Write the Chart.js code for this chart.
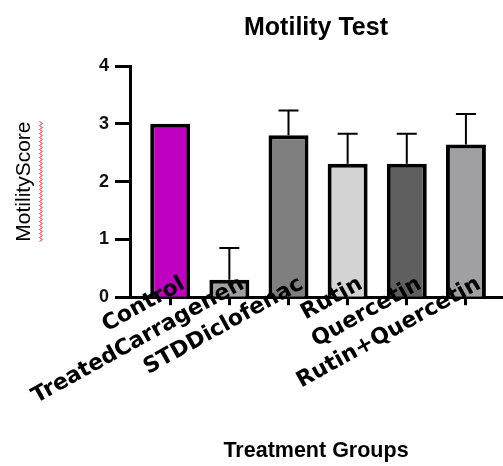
<!DOCTYPE html>
<html><head><meta charset="utf-8">
<script src="https://cdn.jsdelivr.net/npm/chart.js@4.4.1/dist/chart.umd.min.js"></script>
<style>html,body{margin:0;padding:0;background:#fff;overflow:hidden}#wrap{width:503px;height:466px;position:relative}</style>
</head><body><div id="wrap"><canvas id="c" width="503" height="466"></canvas></div>
<script>
const categories = ["Control", "TreatedCarragenen", "STDDiclofenac", "Rutin", "Quercetin", "Rutin+Quercetin"];
const meanScores = [3.0, 0.3, 2.8, 2.31, 2.31, 2.64];
const errorUpper = [0, 0.55, 0.43, 0.52, 0.52, 0.53];
const yTickValues = [0, 1, 2, 3, 4];
const barColors = ["#C000C0", "#9F9FA4", "#7F7F7F", "#D3D3D3", "#5F5F5F", "#A0A0A4"];

Chart.defaults.font.family = "'Liberation Sans', Arial, sans-serif";
Chart.defaults.color = "#000";

const errorBars = {
  id: 'errorBars',
  afterDatasetsDraw(chart) {
    const ctx = chart.ctx, y = chart.scales.y;
    const meta = chart.getDatasetMeta(0);
    ctx.save();
    ctx.strokeStyle = '#000';
    ctx.lineWidth = 2;
    meta.data.forEach((bar, i) => {
      const e = errorUpper[i];
      if (!e) return;
      const top = y.getPixelForValue(meanScores[i]);
      const end = y.getPixelForValue(meanScores[i] + e);
      ctx.beginPath();
      ctx.moveTo(bar.x, top); ctx.lineTo(bar.x, end);
      ctx.moveTo(bar.x - 10, end); ctx.lineTo(bar.x + 10, end);
      ctx.stroke();
    });
    ctx.restore();
  }
};

const squiggle = {
  id: 'squiggle',
  afterDraw(chart) {
    const ctx = chart.ctx, y = chart.scales.y;
    const t = y.options.title;
    const fs = t.font.size;
    ctx.save();
    ctx.font = fs + "px 'Liberation Sans', sans-serif";
    const w = ctx.measureText(t.text).width;
    const cy = (chart.chartArea.top + chart.chartArea.bottom) / 2;
    const cx = y.left + t.padding.top + fs * 0.6 + 17;
    ctx.strokeStyle = '#e33';
    ctx.lineWidth = 1;
    ctx.beginPath();
    let k = 0;
    for (let p = cy - w / 2; p <= cy + w / 2; p += 2, k++) {
      const xx = cx + (k % 2 ? 1.5 : -1.5);
      if (k === 0) ctx.moveTo(xx, p); else ctx.lineTo(xx, p);
    }
    ctx.stroke();
    ctx.restore();
  }
};

new Chart(document.getElementById('c'), {
  type: 'bar',
  data: {
    datasets: [{
      data: categories.map((c, i) => ({ x: i, y: meanScores[i] })),
      backgroundColor: barColors,
      borderColor: '#000',
      borderWidth: 4,
      borderSkipped: 'bottom',
      barPercentage: 0.676,
      categoryPercentage: 1.0,
      xAxisID: 'x',
      yAxisID: 'y'
    }]
  },
  options: {
    responsive: false,
    animation: false,
    devicePixelRatio: 1,
    layout: { padding: { left: 0, right: 1, top: 0, bottom: 0 } },
    plugins: { legend: { display: false }, tooltip: { enabled: false } },
    scales: {
      x: {
        type: 'linear',
        position: 'bottom',
        offset: false,
        min: -0.68,
        max: 5.61,
        afterBuildTicks(scale) { scale.ticks = categories.map((c, i) => ({ value: i })); },
        ticks: {
          z: 1,
          autoSkip: false,
          mirror: true,
          minRotation: 29,
          maxRotation: 29,
          padding: 3,
          labelOffset: 26,
          font: { family: "'DejaVu Sans', sans-serif", size: 22, weight: 'bold' },
          color: '#000',
          callback: (v) => categories[v]
        },
        grid: { display: true, offset: false, drawOnChartArea: false, drawTicks: true, tickLength: 8, tickWidth: 3, tickColor: '#000' },
        border: { display: true, color: '#000', width: 3 },
        title: {
          display: true,
          text: 'Treatment Groups',
          font: { size: 21.5, weight: 'bold' },
          color: '#000',
          padding: { top: 127, bottom: 2 }
        }
      },
      x2: {
        type: 'linear',
        position: 'top',
        display: true,
        ticks: { display: false },
        grid: { display: false, drawTicks: false },
        border: { display: false },
        title: {
          display: true,
          text: 'Motility Test',
          font: { size: 25, weight: 'bold' },
          color: '#000',
          padding: { top: 13, bottom: 23 }
        }
      },
      y: {
        min: 0,
        max: 4,
        afterFit(scale) { scale.width = 130; },
        afterBuildTicks(scale) { scale.ticks = yTickValues.map(v => ({ value: v })); },
        ticks: {
          padding: 6,
          font: { size: 18, weight: 'bold' },
          color: '#111'
        },
        grid: { display: true, drawOnChartArea: false, drawTicks: true, tickLength: 15, tickWidth: 3, tickColor: '#000' },
        border: { display: true, color: '#000', width: 3 },
        title: {
          display: true,
          text: 'MotilityScore',
          font: { size: 21, weight: 'normal' },
          color: '#000',
          padding: { top: 11.4, bottom: 0 }
        }
      }
    }
  },
  plugins: [errorBars, squiggle]
});
</script>
</body></html>
